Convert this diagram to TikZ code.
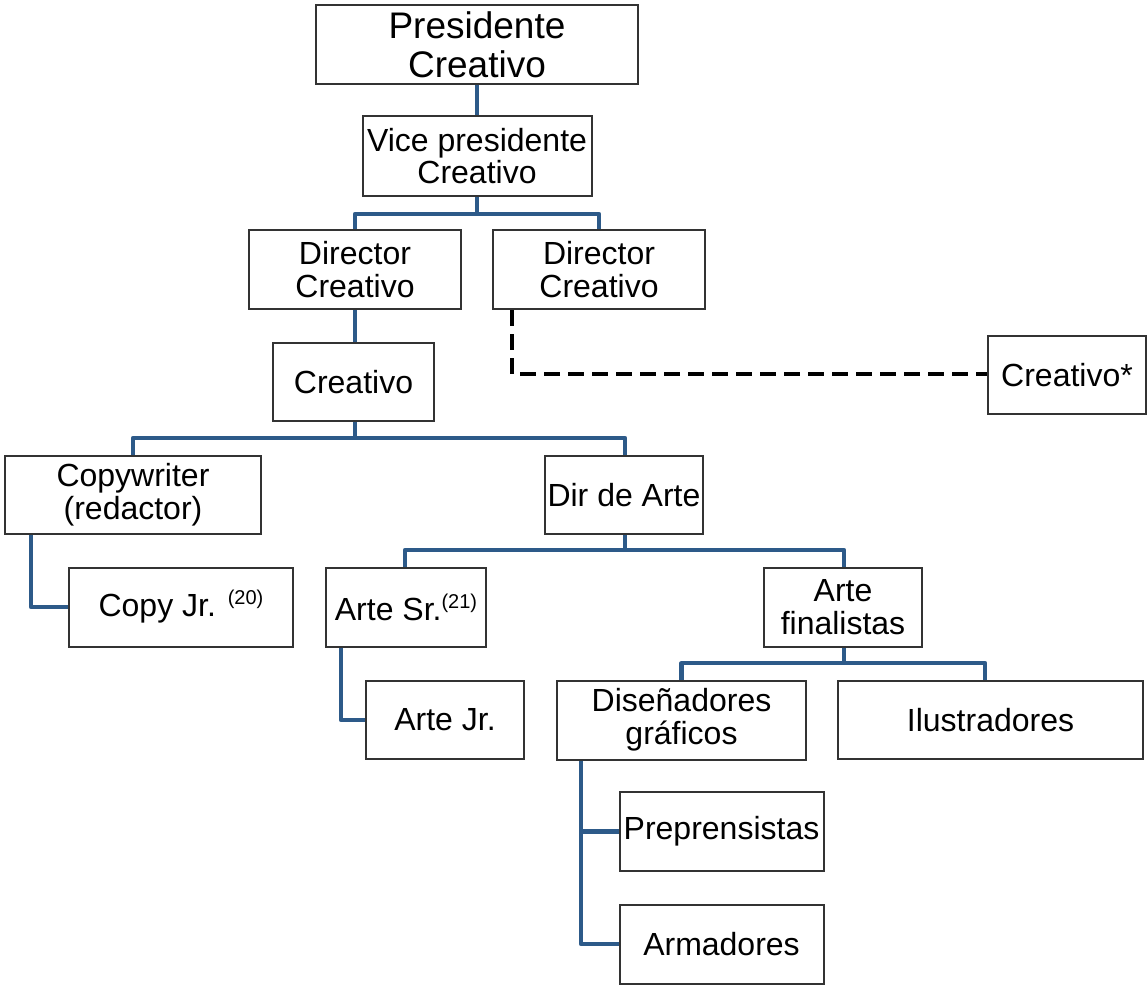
\documentclass[tikz,border=0pt]{standalone}
\usepackage{fontspec}
\setmainfont{Liberation Sans}
\begin{document}
\begin{tikzpicture}[x=1pt,y=-1pt,
  box/.style={draw=boxgray, line width=2pt, rectangle, inner sep=0pt, align=center,
    font=\fontsize{32}{32.7}\selectfont},
  link/.style={draw=linkblue, line width=4.2pt, line join=round},
  dotlink/.style={draw=black, line width=4.2pt, dash pattern=on 16pt off 8pt}]
\definecolor{linkblue}{HTML}{2D5A89}
\definecolor{boxgray}{HTML}{333333}
\useasboundingbox (0,0) rectangle (1148,986);
\newcommand{\supnum}[1]{\raisebox{12pt}{\fontsize{20}{20}\selectfont (#1)}}

% boxes
\node[box, minimum width=322pt, minimum height=79pt, font=\fontsize{37}{38.7}\selectfont]
  (pres) at (477,44.5) {Presidente\\Creativo};
\node[box, minimum width=229pt, minimum height=80pt] (vp) at (477,156) {Vice presidente\\Creativo};
\node[box, minimum width=212pt, minimum height=79pt] (dca) at (355,269.5) {Director\\Creativo};
\node[box, minimum width=212pt, minimum height=79pt] (dcb) at (599,269.5) {Director\\Creativo};
\node[box, minimum width=158pt, minimum height=78pt] (cstar) at (1067,375) {Creativo*};
\node[box, minimum width=161pt, minimum height=78pt] (crea) at (353.5,382) {Creativo};
\node[box, minimum width=256pt, minimum height=78pt] (copyw) at (133,494.5) {Copywriter\\(redactor)};
\node[box, minimum width=158pt, minimum height=78pt] (dirarte) at (624,495) {Dir de Arte};
\node[box, minimum width=224pt, minimum height=79pt] (copyjr) at (181,607) {Copy Jr. \supnum{20}};
\node[box, minimum width=160pt, minimum height=79pt] (artesr) at (406,607) {Arte Sr.\supnum{21}};
\node[box, minimum width=158pt, minimum height=79pt] (artefin) at (843,607) {Arte\\finalistas};
\node[box, minimum width=158pt, minimum height=78pt] (artejr) at (445,720) {Arte Jr.};
\node[box, minimum width=249pt, minimum height=79pt] (disen) at (681.5,720) {Diseñadores\\gráficos};
\node[box, minimum width=305pt, minimum height=78pt] (ilus) at (990.5,720) {Ilustradores};
\node[box, minimum width=204pt, minimum height=79pt] (prep) at (721.5,831.5) {Preprensistas};
\node[box, minimum width=204pt, minimum height=79pt] (arm) at (721.5,944) {Armadores};

% bus junctions
\coordinate (busvp) at (477,214);
\coordinate (buscrea) at (355,438);
\coordinate (busarte) at (625,550);
\coordinate (busfin) at (844,663);

% connectors
\draw[link] (pres.south) -- (vp.north);
\draw[link] (vp.south) -- (busvp);
\draw[link] (dca.north) |- (busvp) -| (dcb.north);
\draw[link] (dca.south) -- (dca.south |- crea.north);
\draw[link] (crea.south -| buscrea) -- (buscrea);
\draw[link] (copyw.north) |- (buscrea) -| ([xshift=1pt]dirarte.north);
\draw[link] ([xshift=27pt]copyw.south west) |- (copyjr.west);
\draw[link] ([xshift=1pt]dirarte.south) -- (busarte);
\draw[link] ([xshift=-1pt]artesr.north) |- (busarte) -| ([xshift=1pt]artefin.north);
\draw[link] ([xshift=16pt]artesr.south west) |- (artejr.west);
\draw[link] ([xshift=1pt]artefin.south) -- (busfin);
\draw[link] (disen.north) |- (busfin) -| ([xshift=-5.5pt]ilus.north);
\draw[link] ([xshift=25pt]disen.south west) |- (prep.west);
\draw[link] ([xshift=25pt]disen.south west) |- (arm.west);
\draw[dotlink] ([xshift=20pt]dcb.south west) |- ([yshift=1pt]cstar.west);
\end{tikzpicture}
\end{document}
